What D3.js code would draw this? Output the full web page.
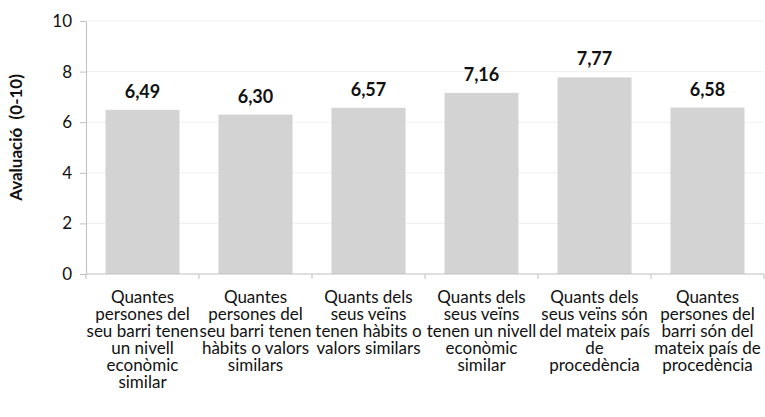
<!DOCTYPE html>
<html>
<head>
<meta charset="utf-8">
<script src="https://cdn.jsdelivr.net/npm/d3@7"></script>
<style>
  body { margin: 0; background: #fff; }
  svg { display: block; font-family: Lato, "Open Sans", sans-serif; }
</style>
</head>
<body>
<div id="chart"></div>
<script>
// data
var categories = [
    ["Quantes", "persones del", "seu barri tenen", "un nivell", "econòmic", "similar"],
    ["Quantes", "persones del", "seu barri tenen", "hàbits o valors", "similars"],
    ["Quants dels", "seus veïns", "tenen hàbits o", "valors similars"],
    ["Quants dels", "seus veïns", "tenen un nivell", "econòmic", "similar"],
    ["Quants dels", "seus veïns són", "del mateix país", "de", "procedència"],
    ["Quantes", "persones del", "barri són del", "mateix país de", "procedència"]
];
var values = [6.49, 6.30, 6.57, 7.16, 7.77, 6.58];
var yTicks = [0, 2, 4, 6, 8, 10];
var yTitle = "Avaluació  (0-10)";

function main() {
    var margin = { top: 21, right: 1, bottom: 143, left: 86 };
    var width = 765 - margin.left - margin.right;
    var height = 417 - margin.top - margin.bottom;

    var svg = d3.select("#chart")
        .append("svg")
        .attr("width", 765)
        .attr("height", 417)
        .append("g")
        .attr("transform", "translate(" + margin.left + "," + margin.top + ")");

    var ids = d3.range(categories.length);

    var x = d3.scaleBand()
        .domain(ids)
        .range([0, width])
        .paddingInner(0.345)
        .paddingOuter(0.1725);

    var y = d3.scaleLinear()
        .domain([0, 10])
        .range([height, 0]);

    // gridlines
    svg.append("g")
        .selectAll("line")
        .data(yTicks.filter(function (d) { return d > 0; }))
        .enter()
        .append("line")
        .attr("x1", 0)
        .attr("x2", width)
        .attr("y1", function (d) { return y(d); })
        .attr("y2", function (d) { return y(d); })
        .attr("stroke", "#f0f0f0")
        .attr("stroke-width", 1);

    // bars
    svg.selectAll("rect.bar")
        .data(values)
        .enter()
        .append("rect")
        .attr("class", "bar")
        .attr("x", function (d, i) { return x(i); })
        .attr("width", x.bandwidth())
        .attr("y", function (d) { return y(d); })
        .attr("height", function (d) { return height - y(d); })
        .attr("fill", "#d3d3d3");

    // value labels
    svg.selectAll("text.val")
        .data(values)
        .enter()
        .append("text")
        .attr("class", "val")
        .attr("x", function (d, i) { return x(i) + x.bandwidth() / 2; })
        .attr("y", function (d) { return y(d) - 12; })
        .attr("text-anchor", "middle")
        .attr("font-size", "18px")
        .attr("font-weight", "bold")
        .attr("fill", "#111")
        .text(function (d) { return d.toFixed(2).replace(".", ","); });

    // y axis
    var yAxis = svg.append("g")
        .call(d3.axisLeft(y).tickValues(yTicks).tickSize(6).tickSizeOuter(0).tickPadding(8));
    yAxis.select(".domain").attr("stroke", "#bfbfbf");
    yAxis.selectAll(".tick line").attr("stroke", "#bfbfbf");
    yAxis.selectAll(".tick text")
        .attr("font-size", "17px")
        .attr("font-family", "Lato, sans-serif")
        .attr("fill", "#111");

    // x axis line and ticks at band boundaries
    var xAxis = svg.append("g").attr("transform", "translate(0," + height + ")");
    xAxis.append("line")
        .attr("x1", 0)
        .attr("x2", width)
        .attr("stroke", "#bfbfbf");
    var step = x.step();
    xAxis.selectAll("line.tk")
        .data(d3.range(categories.length + 1))
        .enter()
        .append("line")
        .attr("class", "tk")
        .attr("x1", function (d) { return d * step; })
        .attr("x2", function (d) { return d * step; })
        .attr("y1", 0)
        .attr("y2", 5)
        .attr("stroke", "#bfbfbf");

    // category labels (multi-line)
    var labels = xAxis.selectAll("text.cat")
        .data(categories)
        .enter()
        .append("text")
        .attr("class", "cat")
        .attr("text-anchor", "middle")
        .attr("font-size", "17px")
        .attr("fill", "#111");
    labels.selectAll("tspan")
        .data(function (d, i) { return d.map(function (t) { return { t: t, i: i }; }); })
        .enter()
        .append("tspan")
        .attr("x", function (d) { return x(d.i) + x.bandwidth() / 2; })
        .attr("y", function (d, j) { return 29 + j * 17; })
        .text(function (d) { return d.t; });

    // y axis title
    svg.append("text")
        .attr("transform", "rotate(-90)")
        .attr("x", -(height / 2) + 10)
        .attr("y", -64)
        .attr("text-anchor", "middle")
        .attr("font-size", "17px")
        .attr("font-weight", "bold")
        .attr("fill", "#111")
        .style("white-space", "pre")
        .text(yTitle);
}
window.addEventListener('load', main);
</script>
</body>
</html>
